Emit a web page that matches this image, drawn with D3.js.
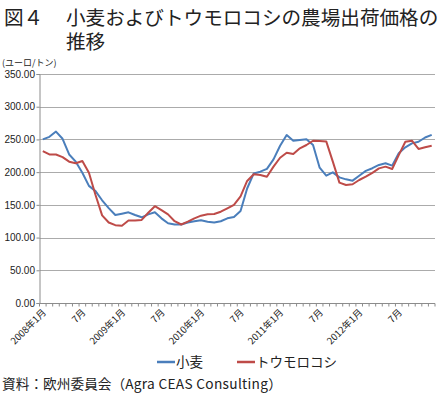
<!DOCTYPE html>
<html>
<head>
<meta charset="utf-8">
<script src="https://cdn.jsdelivr.net/npm/d3@7"></script>
<style>
  body { margin: 0; background: #fff; }
  #chart { position: relative; width: 440px; height: 396px; }
  svg { display: block; position: absolute; left: 0; top: 0; }
  .tl { position: absolute; font-family: 'Noto Sans CJK JP', 'Noto Sans', sans-serif;
        font-size: 19.6px; line-height: 20px; height: 20px; color: #222; white-space: nowrap; }
</style>
</head>
<body>
<div id="chart"></div>
<script>
// monthly farm-gate prices, euro / tonne, Jan 2008 - Dec 2012
const years = [2008, 2009, 2010, 2011, 2012];
const months = [];
years.forEach(y => { for (let m = 1; m <= 12; m++) months.push(y + "-" + m); });

const wheat = [
  250, 254, 262, 251, 227, 216, 199, 179, 171, 157, 145, 134.5,
  136.5, 138.6, 134.5, 131, 135.5, 138.6, 129.4, 121.8, 120, 120, 123, 125,
  126.4, 124.3, 123, 125, 129.4, 131.4, 140.6, 175, 198, 200.7, 205, 219.6,
  240.4, 256.8, 248, 249, 250.2, 241.5, 206.8, 194.6, 199.7, 192, 189, 187,
  194.6, 202, 206, 211, 213.5, 210, 229, 238, 244, 246.5, 253, 257
];
const maize = [
  232, 227, 227, 223, 216, 213.5, 217, 199, 165, 134, 123, 119,
  118, 126, 126, 127, 138, 148, 142, 135.5, 125, 120, 124.3, 129.4,
  133.5, 135.5, 136, 139.5, 144.7, 150, 163, 186.5, 196.7, 195.6, 193, 208.4,
  222, 229.7, 227.7, 236.4, 241.5, 248, 247.6, 247, 216, 184, 180.3, 181.5,
  188, 193, 199, 205.8, 208.4, 204.8, 226, 246.5, 248, 235.4, 238, 240.4
];
const yTicks = [0, 50, 100, 150, 200, 250, 300, 350];
const xTickLabels = ["2008年1月", "7月", "2009年1月", "7月", "2010年1月", "7月",
                     "2011年1月", "7月", "2012年1月", "7月"];
const seriesNames = ["小麦", "トウモロコシ"];
const colors = ["#4a7ebb", "#be4b48"];

const W = 440, H = 396;
const chart = d3.select("#chart");
const svg = chart.append("svg").attr("width", W).attr("height", H);

const jp = "'Noto Sans CJK JP', 'Noto Sans', sans-serif";
const num = "'Liberation Sans', Arial, sans-serif";

// title (html lines so the two rows keep a tight leading)
chart.append("div").attr("class", "tl").style("left", "4px").style("top", "7px").text("図４");
chart.append("div").attr("class", "tl").style("left", "66px").style("top", "7px")
  .text("小麦およびトウモロコシの農場出荷価格の");
chart.append("div").attr("class", "tl").style("left", "66px").style("top", "31px").text("推移");

// scales
const x = d3.scaleBand().domain(months).range([39.5, 435]);
const y = d3.scaleLinear().domain([0, 350]).range([303, 74]);
const cx = d => x(d) + x.bandwidth() / 2;

// unit
svg.append("text").attr("x", 2).attr("y", 66)
  .style("font-family", jp).style("font-size", "9px").attr("fill", "#222")
  .text("(ユーロ/トン)");

// gridlines
svg.append("g").selectAll("line").data(yTicks.filter(v => v > 0)).join("line")
  .attr("x1", 39.5).attr("x2", 435)
  .attr("y1", d => Math.round(y(d)) + 0.5).attr("y2", d => Math.round(y(d)) + 0.5)
  .attr("stroke", "#ababab").attr("stroke-width", 1.2);

// y axis
const yAxis = svg.append("g").attr("transform", "translate(39.5,0)")
  .call(d3.axisLeft(y).tickValues(yTicks).tickSize(3).tickFormat(d3.format(".2f")));
yAxis.select(".domain").attr("stroke", "#8c8c8c");
yAxis.selectAll(".tick line").attr("stroke", "#8c8c8c");
yAxis.selectAll("text").style("font-family", num).style("font-size", "10px")
  .attr("fill", "#222").attr("x", -4.5);

// x axis: ticks at every month boundary
const bounds = months.map(m => x(m)).concat([x.range()[1]]);
const xg = svg.append("g");
xg.append("line").attr("x1", 39.5).attr("x2", 435)
  .attr("y1", 303.5).attr("y2", 303.5).attr("stroke", "#8c8c8c");
xg.selectAll(".tk").data(bounds).join("line").attr("class", "tk")
  .attr("x1", d => d).attr("x2", d => d).attr("y1", 303.5).attr("y2", 306.5)
  .attr("stroke", "#8c8c8c");
xg.selectAll("text").data(xTickLabels).join("text")
  .attr("transform", (d, i) => `translate(${cx(months[i * 6]) + 4},${313}) rotate(-45)`)
  .attr("text-anchor", "end")
  .style("font-family", jp).style("font-size", "9.5px").attr("fill", "#222")
  .text(d => d);

// lines
const line = d3.line().x((d, i) => cx(months[i])).y(d => y(d));
[wheat, maize].forEach((s, k) => {
  svg.append("path").datum(s).attr("d", line)
    .attr("fill", "none").attr("stroke", colors[k]).attr("stroke-width", 2)
    .attr("stroke-linejoin", "round");
});

// legend
const lg = svg.append("g").attr("transform", "translate(0,362)");
const lx = [157, 237];
seriesNames.forEach((n, k) => {
  lg.append("line").attr("x1", lx[k]).attr("x2", lx[k] + 18)
    .attr("y1", 0).attr("y2", 0).attr("stroke", colors[k]).attr("stroke-width", 2.5);
  lg.append("text").attr("x", lx[k] + 19).attr("y", 5)
    .style("font-family", jp).style("font-size", "13.5px").attr("fill", "#222")
    .text(n);
});

// source
const src = svg.append("text").attr("x", 2).attr("y", 389)
  .style("font-family", jp).style("font-size", "13.7px").attr("fill", "#222");
src.append("tspan").text("資料：欧州委員会（");
src.append("tspan").style("letter-spacing", "0.3px").text("Agra CEAS Consulting");
src.append("tspan").text("）");
</script>
</body>
</html>
